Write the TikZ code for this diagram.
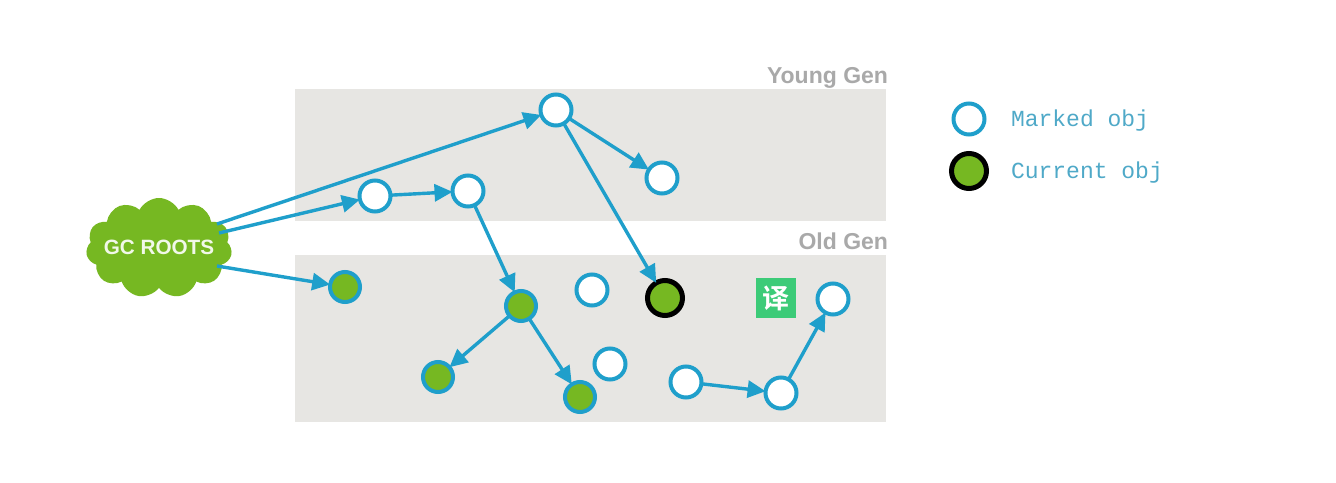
\documentclass[tikz,border=0pt]{standalone}
\usepackage{fontspec}
\setmainfont{Liberation Sans}
\newfontfamily\legendfont{Liberation Mono}
\newfontfamily\cjkfont{Noto Sans CJK SC}[BoldFont={Noto Sans CJK SC Bold}]
\usetikzlibrary{arrows.meta,shapes.symbols}
\definecolor{lnblue}{HTML}{1F9FCB}
\definecolor{objgreen}{HTML}{76B822}
\definecolor{genbg}{HTML}{E7E6E3}
\definecolor{gentext}{HTML}{A9A9A9}
\definecolor{legtext}{HTML}{4FA9C8}
\definecolor{badge}{HTML}{3CCB78}
\tikzset{
 every node/.style={inner sep=0pt,outer sep=0pt},
 gen/.style={fill=genbg,draw=none},
 genlabel/.style={text=gentext,font=\fontsize{23}{23}\selectfont\bfseries,anchor=base east},
 marked/.style={circle,draw=lnblue,line width=4pt,fill=white,minimum size=31pt},
 live/.style={circle,draw=lnblue,line width=4pt,fill=objgreen,minimum size=30pt},
 current/.style={circle,draw=black,line width=5pt,fill=objgreen,minimum size=35pt},
 link/.style={draw=lnblue,line width=3.4pt,-{Triangle[length=18pt,width=17pt]},shorten >=0pt},
 legend/.style={text=legtext,font=\legendfont\fontsize{23}{23}\selectfont,anchor=base west},
}
\begin{document}
\begin{tikzpicture}[x=1pt,y=-1pt]
\useasboundingbox (0,0) rectangle (1336,482);
\fill[white] (0,0) rectangle (1336,482);
\node[gen,anchor=north west,minimum width=591pt,minimum height=132pt] (young) at (295,89) {};
\node[gen,anchor=north west,minimum width=591pt,minimum height=167pt] (old) at (295,255) {};
\node[genlabel] (younglabel) at (888,83) {Young Gen};
\node[genlabel] (oldlabel) at (888,249) {Old Gen};
\node[cloud,cloud puffs=11,cloud puff arc=125,aspect=1.5,fill=objgreen,minimum width=146pt,minimum height=100pt] (roots) at (159,248) {};
\node[text=white!90!objgreen,font=\fontsize{20.7}{21}\selectfont\bfseries] (rootstext) at (159,247) {GC ROOTS};
\node[marked] (a) at (556,110) {};
\node[marked] (b) at (662,178) {};
\node[marked] (c) at (375,196) {};
\node[marked] (d) at (468,191) {};
\node[live] (e) at (345,287) {};
\node[live] (f) at (521,306) {};
\node[live] (g) at (438,377) {};
\node[live] (h) at (580,397) {};
\node[marked] (i) at (592,290) {};
\node[marked] (j) at (610,364) {};
\node[current] (k) at (665,298) {};
\node[marked] (l) at (833,299) {};
\node[marked] (m) at (686,382) {};
\node[marked] (n) at (781,393) {};
\coordinate (r1) at (217,224);
\coordinate (r2) at (219,233);
\coordinate (r3) at (217,266);
\draw[link] (r1) -- (a);
\draw[link] (r2) -- (c);
\draw[link] (r3) -- (e);
\draw[link] (c) -- (d);
\draw[link] (a) -- (b);
\draw[link] (a) -- (k);
\draw[link] (d) -- (f);
\draw[link] (f) -- (g);
\draw[link] (f) -- (h);
\draw[link] (m) -- (n);
\draw[link] (n) -- (l);
\node[fill=badge,minimum size=40pt] (tr) at (776,298) {};
\node[text=white,font=\cjkfont\bfseries\fontsize{27}{27}\selectfont] (trtext) at (776,298) {译};
\node[marked,minimum size=31pt] (legm) at (969,119) {};
\node[current] (legc) at (969,171) {};
\node[legend] (legmt) at (1011,126) {Marked obj};
\node[legend] (legct) at (1011,178) {Current obj};
\end{tikzpicture}
\end{document}
